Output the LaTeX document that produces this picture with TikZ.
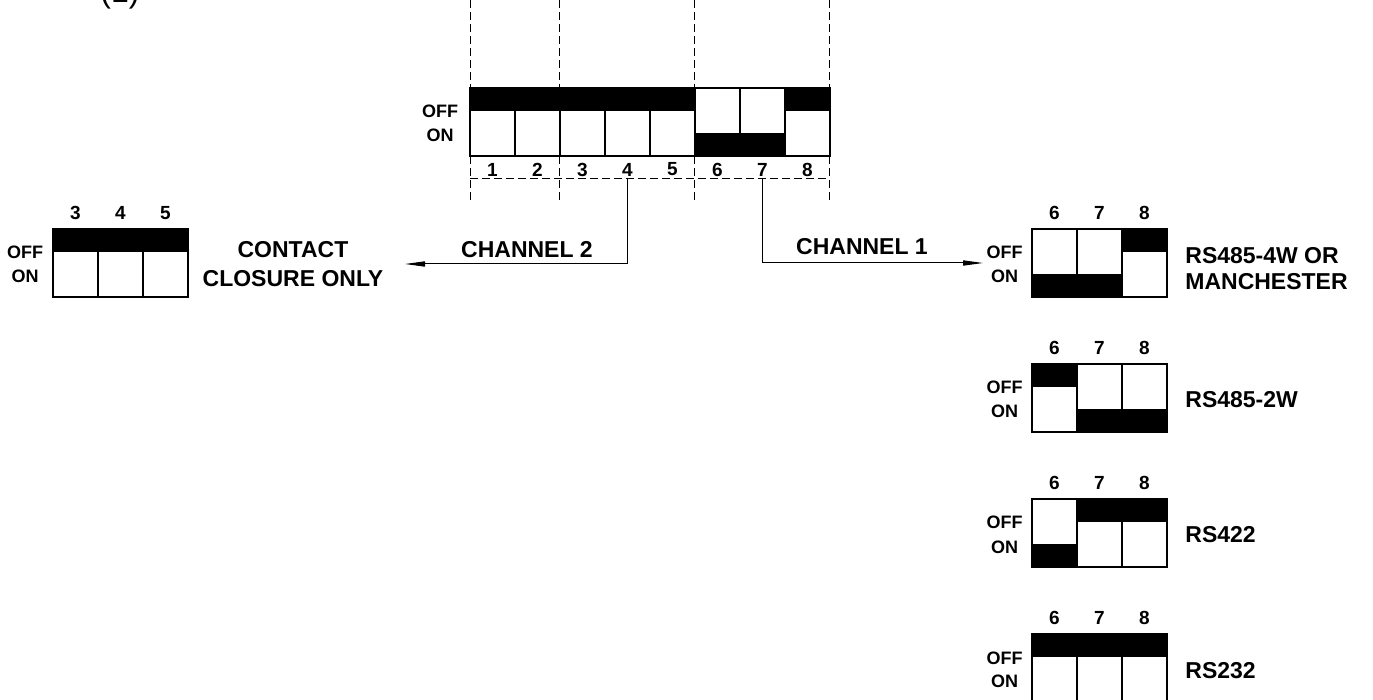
\documentclass[tikz,border=0pt]{standalone}
\usepackage{fontspec}
\setmainfont{Liberation Sans}
\usetikzlibrary{arrows.meta}

\begin{document}
\begin{tikzpicture}[x=0.5pt,y=-0.5pt,
  cadre/.style={draw=black,fill=white,line width=0.6pt},
  tirets/.style={draw=black,line width=0.45pt,dash pattern=on 4pt off 2pt},
  fleche/.style={draw=black,line width=0.5pt,-{Triangle[length=10pt,width=2.6pt]}},
  chiffre/.style={font=\bfseries\fontsize{9.5}{10}\selectfont,inner sep=0pt},
  petit/.style={font=\bfseries\fontsize{9}{10}\selectfont,inner sep=0pt},
  titre/.style={font=\bfseries\fontsize{11.5}{14.5}\selectfont,inner sep=0pt}]
\useasboundingbox (0,0) rectangle (1373,700);
\node[font=\fontsize{16}{18}\selectfont,anchor=base west,inner sep=0pt] (renvoi) at (100,3) {(1)};

% les tirets du commutateur principal
\foreach \x in {470,559,694,829}
  \draw[tirets] (\x,0) -- (\x,200);
\draw[tirets] (470,178) -- (829,178);

% le commutateur principal
\node[petit,anchor=base] (off0) at (440,118) {OFF};
\node[petit,anchor=base] (on0) at (440,142) {ON};
\foreach \s [count=\i] in {0,0,0,0,0,1,1,0}{
  \draw[cadre] ({470+45*(\i-1)},88) rectangle ++(45,68);
  \fill ({470+45*(\i-1)},{88+45*\s}) rectangle ++(45,23);
  \node[chiffre] (p\i) at ({447.5+45*\i},169.5) {\i};
}

% le commutateur du canal 2
\node[petit,anchor=base] (offg) at (25,259) {OFF};
\node[petit,anchor=base] (ong) at (25,283) {ON};
\foreach \s/\n [count=\i] in {0/3,0/4,0/5}{
  \draw[cadre] ({53+45*(\i-1)},229) rectangle ++(45,68);
  \fill ({53+45*(\i-1)},{229+45*\s}) rectangle ++(45,23);
  \node[chiffre] (g\n) at ({30.5+45*\i},213) {\n};
}
\node[titre,align=center] (contact) at (293,264) {CONTACT\\CLOSURE ONLY};

% les commutateurs du canal 1
\foreach \y/\a/\b/\c [count=\k] in {229/1/1/0,364/0/1/1,499/1/0/0,634/0/0/0}{
  \node[petit,anchor=base] (off\k) at (1004.5,{\y+30}) {OFF};
  \node[petit,anchor=base] (on\k) at (1004.5,{\y+54}) {ON};
  \foreach \s/\n [count=\i] in {\a/6,\b/7,\c/8}{
    \draw[cadre] ({1032+45*(\i-1)},\y) rectangle ++(45,68);
    \fill ({1032+45*(\i-1)},{\y+45*\s}) rectangle ++(45,23);
    \node[chiffre] (r\k-\n) at ({1009.5+45*\i},{\y-16}) {\n};
  }
}
\node[titre,font=\bfseries\fontsize{11.5}{13}\selectfont,anchor=west,align=left] (rs4w) at (1185,269) {RS485-4W OR\\MANCHESTER};
\node[titre,anchor=base west] (rs2w) at (1185,407.5) {RS485-2W};
\node[titre,anchor=base west] (rs422) at (1185,543) {RS422};
\node[titre,anchor=base west] (rs232) at (1185,678) {RS232};

% les liaisons
\node[titre,anchor=base] (canal2) at (527,258) {CHANNEL 2};
\node[titre,anchor=base] (canal1) at (862,255) {CHANNEL 1};
\coordinate (d2) at (627.5,178);
\coordinate (d1) at (762.5,178);
\coordinate (f2) at (405,264);
\coordinate (f1) at (983,263);
\draw[fleche] (d2) |- (f2);
\draw[fleche] (d1) |- (f1);
\end{tikzpicture}
\end{document}
